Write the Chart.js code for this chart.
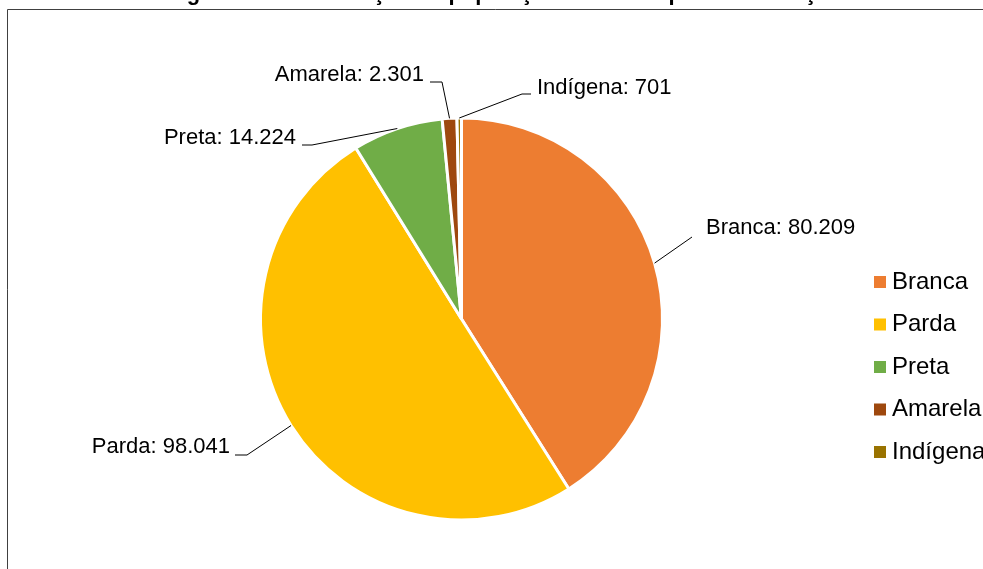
<!DOCTYPE html>
<html><head><meta charset="utf-8">
<script src="https://cdn.jsdelivr.net/npm/chart.js@4"></script>
<style>html,body{margin:0;padding:0;background:#fff;overflow:hidden}#wrap{position:absolute;left:0;top:0;width:983px;height:569px}</style>
</head><body><div id="wrap"><canvas id="c" width="983" height="569"></canvas></div>
<script>
// ---- data ----
const categories = ['Branca', 'Parda', 'Preta', 'Amarela', 'Indígena'];
const values = [80209, 98041, 14224, 2301, 701];
const colors = ['#ED7D31', '#FFC000', '#70AD47', '#9E480E', '#997300'];
const titleText = 'Figura 11 - Distribuição da população residente por cor ou raça';

// ---- label layout (positions of the data-label texts and leader bends) ----
const labelLayout = [
  {x: 706, y: 228, align: 'left',  pts: [[692, 237]]},
  {x: 230, y: 447, align: 'right', pts: [[247, 455], [235, 455]]},
  {x: 296, y: 138, align: 'right', pts: [[312, 145], [302, 145]]},
  {x: 424, y: 75,  align: 'right', pts: [[442, 82], [430, 82]]},
  {x: 537, y: 88,  align: 'left',  pts: [[522, 94], [531, 94]]}
];
const FONT = '"Liberation Sans", Arial, sans-serif';
const fmt = v => String(v).replace(/\B(?=(\d{3})+(?!\d))/g, '.');

const decor = {
  id: 'decor',
  afterDraw(chart) {
    const ctx = chart.ctx;
    ctx.save();
    // frame
    ctx.strokeStyle = '#404040';
    ctx.lineWidth = 1;
    ctx.beginPath();
    ctx.moveTo(7.5, 569); ctx.lineTo(7.5, 9.5); ctx.lineTo(983, 9.5);
    ctx.stroke();
    // title (cut off at top, as in the reference)
    ctx.fillStyle = '#000';
    ctx.font = 'bold 22px ' + FONT;
    ctx.textAlign = 'center';
    ctx.textBaseline = 'alphabetic';
    ctx.fillText(titleText, 498, 0.3);
    // data labels with leader lines
    const meta = chart.getDatasetMeta(0);
    ctx.font = '22px ' + FONT;
    ctx.textBaseline = 'middle';
    meta.data.forEach((arc, i) => {
      const L = labelLayout[i];
      const mid = (arc.startAngle + arc.endAngle) / 2;
      const sx = arc.x + Math.cos(mid) * arc.outerRadius;
      const sy = arc.y + Math.sin(mid) * arc.outerRadius;
      ctx.strokeStyle = '#000';
      ctx.lineWidth = 1;
      ctx.beginPath();
      ctx.moveTo(sx, sy);
      L.pts.forEach(p => ctx.lineTo(p[0], p[1]));
      ctx.stroke();
      ctx.textAlign = L.align;
      ctx.fillStyle = '#000';
      ctx.fillText(chart.data.labels[i] + ': ' + fmt(chart.data.datasets[0].data[i]), L.x, L.y);
    });
    // legend
    ctx.font = '24px ' + FONT;
    ctx.textAlign = 'left';
    chart.data.labels.forEach((lab, i) => {
      const cy = 282 + i * 42.5;
      ctx.fillStyle = colors[i];
      ctx.fillRect(874, cy - 6, 12, 12);
      ctx.fillStyle = '#000';
      ctx.fillText(lab, 892, cy);
    });
    ctx.restore();
  }
};

new Chart(document.getElementById('c'), {
  type: 'pie',
  data: {
    labels: categories,
    datasets: [{
      data: values,
      backgroundColor: colors,
      borderColor: '#ffffff',
      borderWidth: 3,
      radius: 201
    }]
  },
  options: {
    responsive: false,
    animation: false,
    events: [],
    layout: {padding: {left: 0, right: 60, top: 69, bottom: 0}},
    plugins: {legend: {display: false}, tooltip: {enabled: false}, title: {display: false}}
  },
  plugins: [decor]
});
</script>
</body></html>
